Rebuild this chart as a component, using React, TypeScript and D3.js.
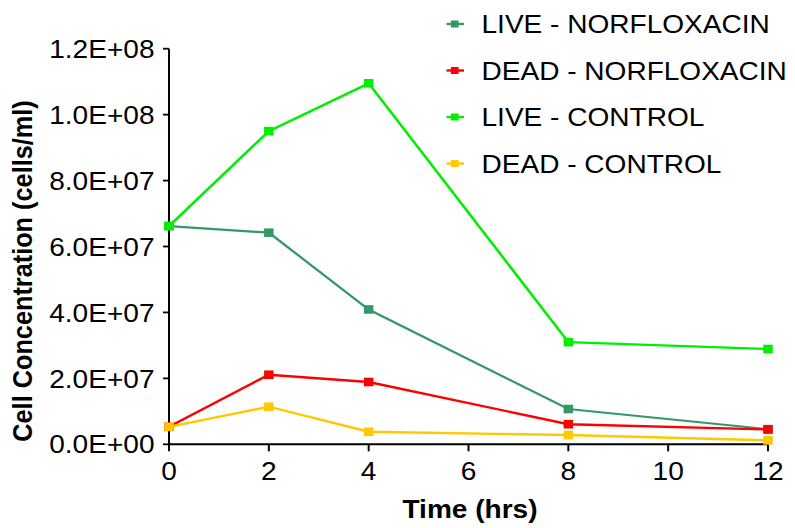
import React from "react";
import * as d3 from "d3";

const times = [0, 2, 4, 8, 12];
const seriesNames = ["LIVE - NORFLOXACIN", "DEAD - NORFLOXACIN", "LIVE - CONTROL", "DEAD - CONTROL"];
const liveNorfloxacin = [6.62e7, 6.42e7, 4.09e7, 1.07e7, 4.6e6];
const deadNorfloxacin = [5.3e6, 2.11e7, 1.89e7, 6.1e6, 4.5e6];
const liveControl = [6.62e7, 9.5e7, 1.095e8, 3.1e7, 2.89e7];
const deadControl = [5.3e6, 1.14e7, 3.8e6, 2.8e6, 1.2e6];
const seriesColors = ["#339966", "#FF0000", "#00EE00", "#FFC800"];
const xTicks = [0, 2, 4, 6, 8, 10, 12];
const yTicks = [0, 2e7, 4e7, 6e7, 8e7, 1e8, 1.2e8];

const W = 795;
const H = 528;
const SX = 1.1; // horizontal stretch of the reference image
const FONT = "'Liberation Sans', Arial, Helvetica, sans-serif";

function fmt(v: number) {
  const e = v === 0 ? 0 : Math.floor(Math.log10(v));
  const m = v === 0 ? 0 : v / Math.pow(10, e);
  return `${m.toFixed(1)}E+${String(e).padStart(2, "0")}`;
}

export default function App() {
  const x = d3.scaleLinear().domain([0, 12]).range([169 / SX, 768 / SX]);
  const y = d3.scaleLinear().domain([0, 1.2e8]).range([444.3, 48.7]);
  const allSeries = [liveNorfloxacin, deadNorfloxacin, liveControl, deadControl];
  const line = d3
    .line<number>()
    .x((_, i) => x(times[i]))
    .y((d) => y(d));
  const ms = 8.6;
  const legendX = 455 / SX;
  const legendTextX = 481.5 / SX;
  const legendY = [24, 70.5, 117, 163.5];

  return (
    <svg
      width={W}
      height={H}
      style={{ position: "absolute", left: 0, top: 0, background: "#fff" }}
    >
      <g transform={`scale(${SX},1)`} fontFamily={FONT}>
        {/* axes */}
        <line x1={x(0)} x2={x(0)} y1={y(1.2e8)} y2={y(0)} stroke="#000" strokeWidth={1.8} />
        <line x1={x(0)} x2={x(12)} y1={y(0)} y2={y(0)} stroke="#000" strokeWidth={2} />
        {yTicks.map((t) => (
          <g key={"y" + t}>
            <line x1={x(0) - 6 / SX} x2={x(0)} y1={y(t)} y2={y(t)} stroke="#000" strokeWidth={1.8} />
            <text
              x={154.5 / SX}
              y={y(t) + 9.2}
              textAnchor="end"
              fontSize={25.5}
              fill="#000"
            >
              {fmt(t)}
            </text>
          </g>
        ))}
        {xTicks.map((t) => (
          <g key={"x" + t}>
            <line x1={x(t)} x2={x(t)} y1={y(0)} y2={y(0) + 7} stroke="#000" strokeWidth={1.8} />
            <text x={x(t)} y={480} textAnchor="middle" fontSize={25.5} fill="#000">
              {t}
            </text>
          </g>
        ))}
        <text x={470 / SX} y={518.5} textAnchor="middle" fontSize={25.5} fontWeight="bold" fill="#000">
          Time (hrs)
        </text>
        <text
          transform={`translate(${31.5 / SX},${271}) rotate(-90)`}
          textAnchor="middle"
          fontSize={25.3}
          fontWeight="bold"
          fill="#000"
        >
          Cell Concentration (cells/ml)
        </text>

        {/* series */}
        {allSeries.map((s, si) => (
          <g key={"s" + si}>
            <path
              d={line(s) || ""}
              fill="none"
              stroke={seriesColors[si]}
              strokeWidth={si === 0 ? 2.2 : 2.4}
            />
            {s.map((v, i) => (
              <rect
                key={i}
                x={x(times[i]) - ms / 2}
                y={y(v) - ms / 2}
                width={ms}
                height={ms}
                fill={seriesColors[si]}
              />
            ))}
          </g>
        ))}

        {/* legend */}
        {seriesNames.map((name, i) => (
          <g key={"l" + i}>
            <line
              x1={446.5 / SX}
              x2={464 / SX}
              y1={legendY[i]}
              y2={legendY[i]}
              stroke={seriesColors[i]}
              strokeWidth={2.4}
            />
            <rect
              x={legendX - 6 / SX / 2 - 1}
              y={legendY[i] - 3.5}
              width={7}
              height={7}
              fill={seriesColors[i]}
            />
            <text x={legendTextX} y={legendY[i] + 9.2} fontSize={25.5} fill="#000">
              {name}
            </text>
          </g>
        ))}
      </g>
    </svg>
  );
}
